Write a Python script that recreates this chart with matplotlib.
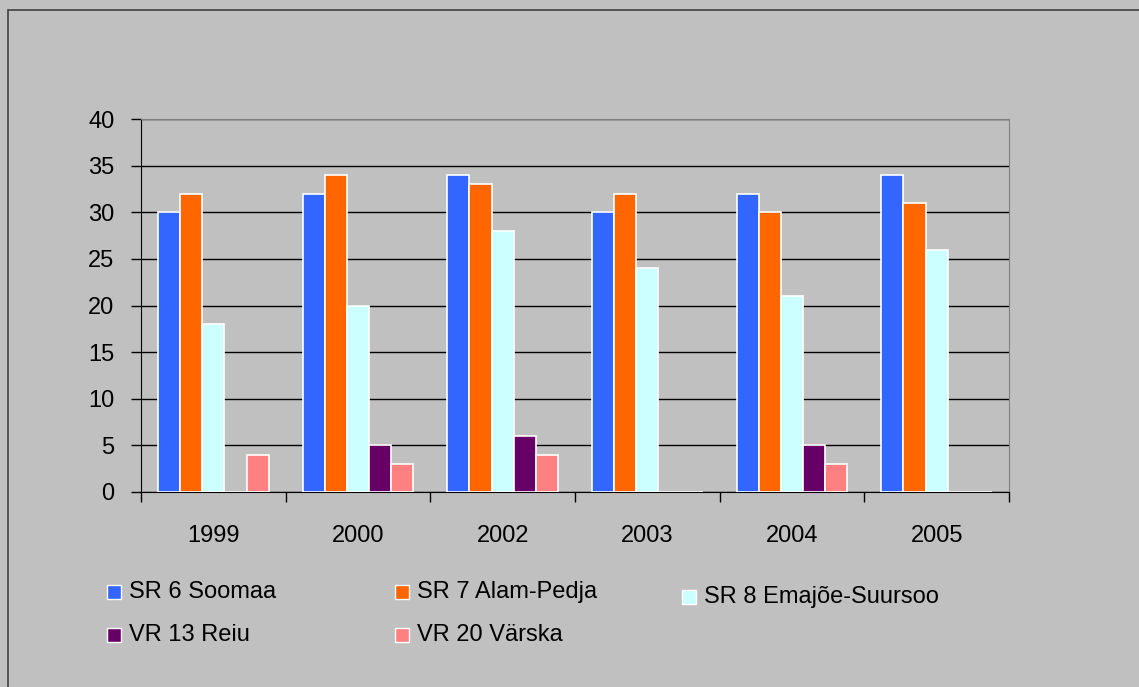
"""Bird counts by reserve, grouped bar chart"""
import matplotlib.pyplot as plt
from matplotlib.patches import Rectangle
import numpy as np

YEARS = ["1999", "2000", "2002", "2003", "2004", "2005"]
SERIES = ["SR 6 Soomaa", "SR 7 Alam-Pedja", "SR 8 Emajõe-Suursoo",
          "VR 13 Reiu", "VR 20 Värska"]
SOOMAA = [30, 32, 34, 30, 32, 34]
ALAM_PEDJA = [32, 34, 33, 32, 30, 31]
EMAJOE = [18, 20, 28, 24, 21, 26]
REIU = [0, 5, 6, 0, 5, 0]
VARSKA = [4, 3, 4, 0, 3, 0]
COLORS = ["#3366FF", "#FF6600", "#CCFFFF", "#660066", "#FF8080"]


def main():
    plt.rcParams['font.family'] = ['Liberation Sans', 'DejaVu Sans']
    W, H = 1139, 687
    fs = 17
    fig = plt.figure(figsize=(W / 100, H / 100), dpi=100)
    fig.patch.set_facecolor("#C0C0C0")
    # outer frame
    fig.patches.append(Rectangle((8 / W, -0.01), 1.02, (H - 10) / H + 0.01,
                                 transform=fig.transFigure, fill=False,
                                 edgecolor="#404040", linewidth=1.2))

    ax = fig.add_axes([141 / W, 1 - 492 / H, (1009 - 141) / W, (492 - 119) / H])
    ax.set_facecolor("#C0C0C0")

    data = [SOOMAA, ALAM_PEDJA, EMAJOE, REIU, VARSKA]
    x = np.arange(len(YEARS))
    width = 0.153
    for i, vals in enumerate(data):
        ax.bar(x + (i - 2) * width, vals, width, color=COLORS[i],
               edgecolor="white", linewidth=1.2, zorder=3)

    ax.set_xlim(-0.5, len(YEARS) - 0.5)
    ax.set_ylim(0, 40)
    ax.set_yticks(range(0, 41, 5))
    ax.yaxis.grid(True, color="black", linewidth=1.0, zorder=0)
    ax.set_axisbelow(True)

    ax.set_xticks(x)
    ax.set_xticklabels(YEARS)
    ax.set_xticks(np.arange(-0.5, len(YEARS)), minor=True)
    ax.tick_params(axis='x', which='major', length=0, pad=24, labelsize=fs)
    ax.tick_params(axis='x', which='minor', length=7, width=1.0,
                   direction='out', color="black")
    ax.tick_params(axis='y', length=7, width=1.0, pad=12, labelsize=fs)

    for side in ("top", "right"):
        ax.spines[side].set_color("#808080")
    for side in ("left", "bottom"):
        ax.spines[side].set_color("black")

    # legend drawn by hand to keep Excel-like spacing
    spots = [(107, 592), (395, 592), (682, 597), (107, 635), (395, 635)]
    for (px, py), name, c in zip(spots, SERIES, COLORS):
        fig.patches.append(Rectangle((px / W, 1 - (py + 7) / H), 14 / W, 14 / H,
                                     transform=fig.transFigure, facecolor=c,
                                     edgecolor="white", linewidth=1.0))
        fig.text((px + 22) / W, 1 - py / H, name, fontsize=fs,
                 va='center', ha='left')

    fig.savefig("out.png", dpi=100, facecolor=fig.get_facecolor())


if __name__ == '__main__':
    main()
